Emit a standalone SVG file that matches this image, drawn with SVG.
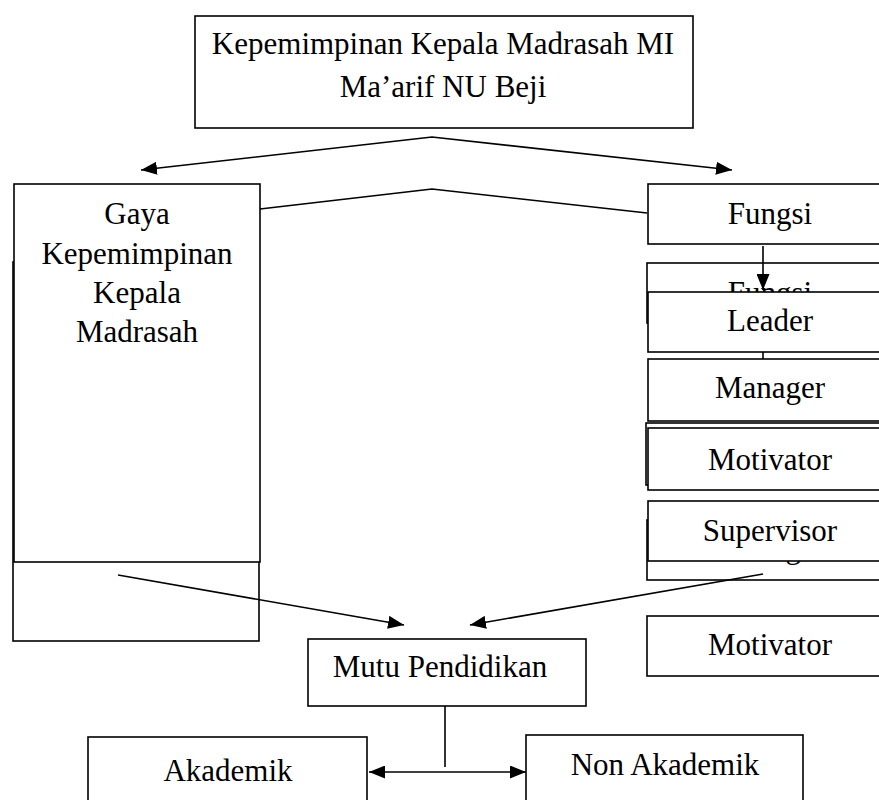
<svg xmlns="http://www.w3.org/2000/svg" width="879" height="800" viewBox="0 0 879 800">
<defs>
<marker id="ah" markerUnits="userSpaceOnUse" markerWidth="17" markerHeight="13" refX="16" refY="6.5" orient="auto-start-reverse"><path d="M0,0 L16,6.5 L0,13 z" fill="#000"/></marker>
<style>
.b{fill:#fff;stroke:#000;stroke-width:1.6}
.t{font-family:"Liberation Serif","Times New Roman",serif;font-size:31px;fill:#000;text-anchor:middle}
.c{fill:none;stroke:#000;stroke-width:1.6}
</style>
</defs>
<rect width="879" height="800" fill="#fff"/>
<g id="top">
<rect class="b" x="195" y="16" width="498" height="112"/>
<text class="t" x="443" y="54">Kepemimpinan Kepala Madrasah MI</text>
<text class="t" x="443" y="97">Ma’arif NU Beji</text>
</g>
<g id="gaya-back"><rect class="b" x="13" y="262" width="246" height="379"/></g>
<g id="gaya">
<rect class="b" x="14" y="184" width="246" height="378"/>
<text class="t" x="137" y="224">Gaya</text>
<text class="t" x="137" y="264">Kepemimpinan</text>
<text class="t" x="137" y="303">Kepala</text>
<text class="t" x="137" y="342">Madrasah</text>
</g>
<g id="fungsi">
<rect class="b" x="648" y="184" width="260" height="60"/>
<text class="t" x="770" y="224">Fungsi</text>
</g>
<g id="fungsi-back">
<rect class="b" x="647" y="263" width="260" height="60"/>
<text class="t" x="770" y="303">Fungsi</text>
</g>
<g id="back-b"><rect class="b" x="646" y="423" width="260" height="62"/></g>
<g id="back-c">
<rect class="b" x="647" y="520" width="260" height="60"/>
<text class="t" x="770" y="558">Manager</text>
</g>
<g id="connectors">
<polyline class="c" points="141,170 432,137 732,170" marker-start="url(#ah)" marker-end="url(#ah)"/>
<polyline class="c" points="260,209 432,189 647,213"/>
<line class="c" x1="763" y1="246" x2="763" y2="290" marker-end="url(#ah)"/>
<line class="c" x1="763" y1="352" x2="763" y2="359"/>
<line class="c" x1="118" y1="575" x2="404" y2="625" marker-end="url(#ah)"/>
<line class="c" x1="763" y1="574" x2="470" y2="625" marker-end="url(#ah)"/>
<line class="c" x1="445" y1="706" x2="445" y2="767"/>
<line class="c" x1="369" y1="772" x2="526" y2="772" marker-start="url(#ah)" marker-end="url(#ah)"/>
</g>
<g id="leader">
<rect class="b" x="648" y="292" width="260" height="60"/>
<text class="t" x="770" y="331">Leader</text>
</g>
<g id="manager">
<rect class="b" x="648" y="359" width="260" height="62"/>
<text class="t" x="770" y="398">Manager</text>
</g>
<g id="motivator">
<rect class="b" x="648" y="428" width="260" height="62"/>
<text class="t" x="770" y="470">Motivator</text>
</g>
<g id="supervisor">
<rect class="b" x="648" y="501" width="260" height="60"/>
<text class="t" x="770" y="541">Supervisor</text>
</g>
<g id="motivator2">
<rect class="b" x="647" y="616" width="260" height="60"/>
<text class="t" x="770" y="655">Motivator</text>
</g>
<g id="mutu">
<rect class="b" x="308" y="639" width="278" height="67"/>
<text class="t" x="440" y="677">Mutu Pendidikan</text>
</g>
<g id="akademik">
<rect class="b" x="88" y="737" width="279" height="70"/>
<text class="t" x="228" y="781">Akademik</text>
</g>
<g id="nonakademik">
<rect class="b" x="526" y="735" width="277" height="72"/>
<text class="t" x="665" y="775">Non Akademik</text>
</g>
</svg>
